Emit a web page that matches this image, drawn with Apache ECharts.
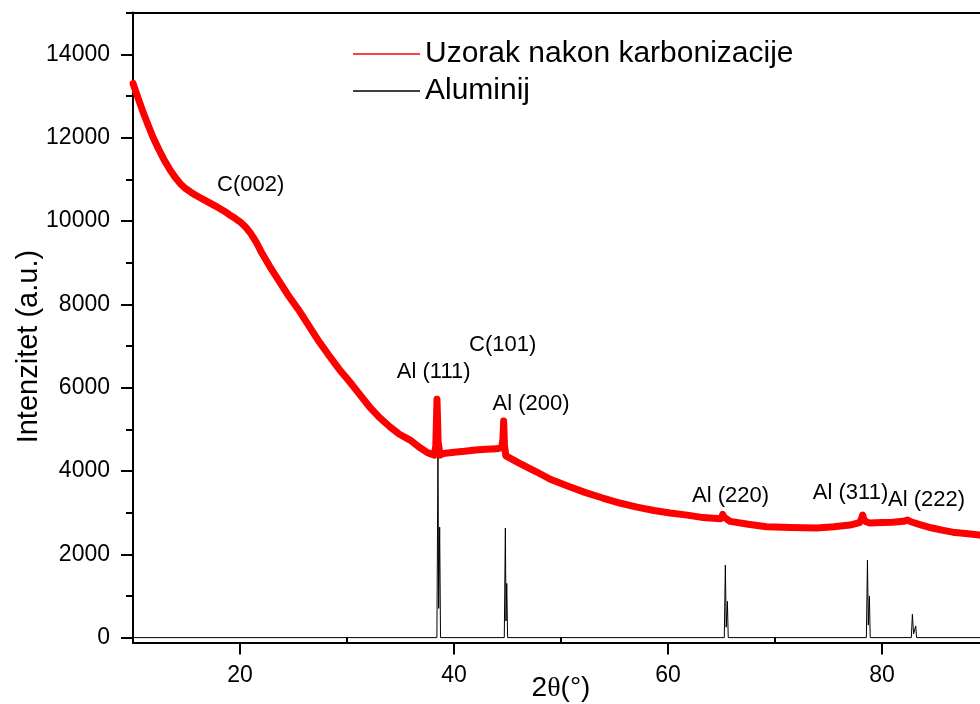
<!DOCTYPE html>
<html>
<head>
<meta charset="utf-8">
<script src="https://cdn.jsdelivr.net/npm/echarts@6/dist/echarts.min.js"></script>
<style>
  html, body { margin: 0; padding: 0; background: #ffffff; }
  #chart { width: 980px; height: 704px; }
</style>
</head>
<body>
<div id="chart"></div>
<script>
// Series names
const sampleName = 'Uzorak nakon karbonizacije';
const refName = 'Aluminij';

// Carbonised sample diffractogram: 2θ (°) and intensity (a.u.)
const sampleTheta = [
  10.0, 10.5, 10.9, 11.4, 11.85, 12.4, 12.9, 13.4, 13.9, 14.4, 14.9, 15.4, 15.9, 16.9, 17.9,
  18.5, 19.0, 19.5, 20.0, 20.5, 21.0, 21.5, 22.0, 22.8, 23.7, 24.6, 25.6, 26.5, 27.4, 28.4,
  29.3, 30.25, 31.2, 32.1, 33.0, 34.0, 34.9, 35.9, 36.7, 37.45, 37.9, 38.15, 38.3, 38.41, 38.52,
  38.7, 39.0, 40.0, 41.0, 42.0, 43.0, 44.0, 44.45, 44.57, 44.64, 44.72, 44.85, 45.0, 46.0, 47.0,
  47.7, 49.0, 50.8, 52.3, 53.9, 55.5, 57.1, 58.7, 60.2, 61.8, 63.3, 64.9, 65.05, 65.11, 65.2,
  65.8, 67.5, 69.2, 71.5, 73.9, 75.5, 77.0, 77.9, 78.08, 78.19, 78.3, 78.5, 78.85, 80.0, 81.0,
  82.0, 82.4, 82.7, 83.7, 84.7, 85.6, 86.6, 87.8, 89.1, 90.0
];
const sampleIntensity = [
  13300, 12930, 12640, 12310, 12020, 11720, 11470, 11250, 11060, 10900, 10780, 10690, 10610, 10470, 10330,
  10240, 10150, 10070, 9980, 9860, 9700, 9500, 9250, 8900, 8540, 8180, 7820, 7460, 7100, 6740,
  6430, 6140, 5830, 5540, 5290, 5060, 4880, 4740, 4580, 4450, 4400, 4380, 4600, 5720, 4700,
  4380, 4420, 4450, 4470, 4500, 4520, 4530, 4560, 4750, 5200, 4600, 4360, 4340, 4200, 4070,
  3980, 3800, 3620, 3480, 3350, 3230, 3130, 3050, 2990, 2940, 2880, 2850, 2900, 2960, 2900,
  2790, 2720, 2660, 2640, 2630, 2660, 2700, 2760, 2850, 2940, 2850, 2780, 2750, 2760, 2770,
  2790, 2820, 2780, 2700, 2630, 2580, 2530, 2500, 2460, 2430
];

// Aluminium reference pattern (Kα1 / Kα2 doublets)
const alTheta = [
  10.0,
  38.40, 38.50, 38.57, 38.66, 38.74,
  44.70, 44.80, 44.86, 44.93, 45.01,
  65.26, 65.36, 65.44, 65.55, 65.63,
  78.54, 78.64, 78.72, 78.82, 78.90,
  82.74, 82.84, 82.95, 83.15, 83.23,
  90.0
];
const alIntensity = [
  0,
  0, 4400, 700, 2650, 0,
  0, 2630, 400, 1300, 0,
  0, 1740, 250, 870, 0,
  0, 1860, 300, 1000, 0,
  0, 560, 90, 280, 0,
  0
];

// Reflection annotations
const peakLabels = ['C(002)', 'C(101)', 'Al (111)', 'Al (200)', 'Al (220)', 'Al (311)', 'Al (222)'];
const peakLabelTheta = [21.0, 44.55, 38.1, 47.2, 65.85, 77.06, 84.17];
const peakLabelIntensity = [10865, 7023, 6375, 5605, 3397, 3470, 3300];

// Axis ticks
const xTicks = [20, 40, 60, 80];
const xMinorTicks = [10, 30, 50, 70, 90];
const yTicks = [0, 2000, 4000, 6000, 8000, 10000, 12000, 14000];
const yMinorTicks = [1000, 3000, 5000, 7000, 9000, 11000, 13000, 15000];

const FONT = 'Liberation Sans, Arial, sans-serif';
const X_MIN = 10, X_MAX = 90, Y_MIN = -120, Y_MAX = 15000;

const samplePoints = sampleTheta.map((t, i) => [t, sampleIntensity[i]]);
const alPoints = alTheta.map((t, i) => [t, alIntensity[i]]);
const labelPoints = peakLabels.map((s, i) => [peakLabelTheta[i], peakLabelIntensity[i], s]);

const chart = echarts.init(document.getElementById('chart'), null, { renderer: 'canvas' });

const axisColor = '#000000';
const plainNumber = v => String(Math.round(v));

chart.setOption({
  animation: false,
  backgroundColor: '#ffffff',
  textStyle: { fontFamily: FONT, color: '#000' },
  grid: { left: 133, top: 12.6, width: 856, height: 630, containLabel: false, outerBoundsMode: 'none' },
  legend: {
    orient: 'vertical',
    left: 348,
    top: 34,
    itemWidth: 67,
    itemHeight: 1.5,
    itemGap: 7,
    data: [
      { name: sampleName, icon: 'rect' },
      { name: refName, icon: 'rect' }
    ],
    textStyle: { fontFamily: FONT, fontSize: 30, color: '#000', lineHeight: 30 }
  },
  xAxis: [
    {
      type: 'value', position: 'bottom', min: X_MIN, max: X_MAX,
      name: '2{t|θ}(°)', nameLocation: 'middle', nameGap: 32, nameMoveOverlap: false,
      nameTextStyle: { fontFamily: FONT, fontSize: 28, color: '#000',
        rich: { t: { fontFamily: 'Liberation Serif, serif', fontSize: 28, color: '#000' } } },
      axisLine: { show: true, onZero: false, lineStyle: { color: axisColor, width: 2 } },
      axisTick: { show: true, inside: false, length: 12, customValues: xTicks,
        lineStyle: { color: axisColor, width: 2 } },
      axisLabel: { show: true, customValues: xTicks, margin: 22, formatter: plainNumber,
        fontFamily: FONT, fontSize: 23, color: '#000' },
      splitLine: { show: false }
    },
    {
      type: 'value', position: 'bottom', min: X_MIN, max: X_MAX,
      axisLine: { show: false },
      axisTick: { show: true, inside: false, length: 6, customValues: xMinorTicks,
        lineStyle: { color: axisColor, width: 2 } },
      axisLabel: { show: false },
      splitLine: { show: false }
    },
    {
      type: 'value', position: 'top', min: X_MIN, max: X_MAX,
      axisLine: { show: true, onZero: false, lineStyle: { color: axisColor, width: 2 } },
      axisTick: { show: false },
      axisLabel: { show: false },
      splitLine: { show: false }
    }
  ],
  yAxis: [
    {
      type: 'value', position: 'left', min: Y_MIN, max: Y_MAX,
      name: 'Intenzitet (a.u.)', nameLocation: 'middle', nameGap: 90, nameMoveOverlap: false,
      nameTextStyle: { fontFamily: FONT, fontSize: 29, color: '#000', padding: [0, 38, 0, 0] },
      axisLine: { show: true, onZero: false, lineStyle: { color: axisColor, width: 2 } },
      axisTick: { show: true, inside: false, length: 12, customValues: yTicks,
        lineStyle: { color: axisColor, width: 2 } },
      axisLabel: { show: true, customValues: yTicks, margin: 23, formatter: plainNumber,
        fontFamily: FONT, fontSize: 23, color: '#000' },
      splitLine: { show: false }
    },
    {
      type: 'value', position: 'left', min: Y_MIN, max: Y_MAX,
      axisLine: { show: false },
      axisTick: { show: true, inside: false, length: 7, customValues: yMinorTicks,
        lineStyle: { color: axisColor, width: 2 } },
      axisLabel: { show: false },
      splitLine: { show: false }
    }
  ],
  series: [
    {
      name: refName,
      type: 'line',
      xAxisIndex: 0, yAxisIndex: 0,
      data: alPoints,
      showSymbol: false,
      symbol: 'none',
      z: 2,
      itemStyle: { color: '#000000' },
      lineStyle: { color: '#000000', width: 1 }
    },
    {
      name: sampleName,
      type: 'line',
      xAxisIndex: 0, yAxisIndex: 0,
      data: samplePoints,
      showSymbol: false,
      symbol: 'none',
      z: 3,
      itemStyle: { color: '#ff0000' },
      lineStyle: { color: '#ff0000', width: 7, join: 'round', cap: 'round' }
    },
    {
      name: 'labels',
      type: 'scatter',
      xAxisIndex: 0, yAxisIndex: 0,
      data: labelPoints,
      symbolSize: 1,
      z: 4,
      itemStyle: { color: 'rgba(0,0,0,0)', opacity: 1 },
      label: {
        show: true,
        position: 'inside',
        formatter: p => p.data[2],
        fontFamily: FONT,
        fontSize: 22,
        color: '#000000',
        opacity: 1,
        textBorderWidth: 0
      },
      silent: true
    }
  ]
});
</script>
</body>
</html>
